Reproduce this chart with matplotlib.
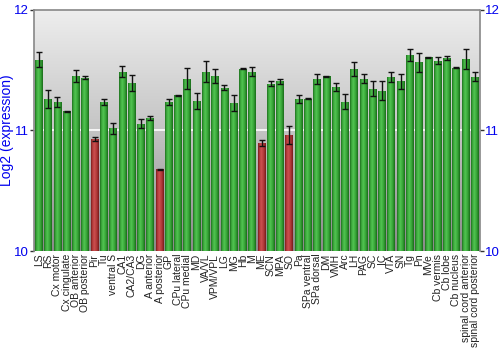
import numpy as np
import matplotlib
matplotlib.use("Agg")
import matplotlib.pyplot as plt
from matplotlib.colors import LinearSegmentedColormap

regions = ["LS", "RS", "Cx motor", "Cx cingulate", "OB anterior", "OB posterior",
           "Pir", "Tu", "ventral S", "CA1", "CA2/CA3", "DG", "A anterior",
           "A posterior", "GP", "CPu lateral", "CPu medial", "MD", "VA/VL",
           "VPM/VPL", "LG", "MG", "Hb", "M", "ME", "SCN", "MPA", "SO", "Pa",
           "SPa ventral", "SPa dorsal", "DM", "VMH", "Arc", "LH", "PAG", "SC",
           "IC", "VTA", "SN", "Tg", "Pn", "MVe", "Cb vermis", "Cb lobe",
           "Cb nucleus", "spinal cord anterior", "spinal cord posterior"]
expression = [11.585, 11.259, 11.234, 11.156, 11.447, 11.436, 10.927, 11.237,
              11.018, 11.485, 11.389, 11.054, 11.100, 10.675, 11.231, 11.289,
              11.427, 11.242, 11.485, 11.452, 11.353, 11.225, 11.510, 11.485,
              10.894, 11.386, 11.405, 10.960, 11.259, 11.261, 11.425, 11.447,
              11.358, 11.237, 11.508, 11.427, 11.344, 11.328, 11.441, 11.405,
              11.621, 11.563, 11.604, 11.577, 11.599, 11.519, 11.593, 11.444]
error = [0.065, 0.073, 0.040, 0.005, 0.050, 0.010, 0.020, 0.025, 0.045, 0.045,
         0.065, 0.036, 0.018, 0.003, 0.024, 0.005, 0.088, 0.064, 0.086, 0.058,
         0.020, 0.066, 0.005, 0.035, 0.028, 0.020, 0.020, 0.075, 0.033, 0.004,
         0.040, 0.004, 0.030, 0.065, 0.055, 0.039, 0.060, 0.077, 0.044, 0.060,
         0.048, 0.079, 0.005, 0.030, 0.014, 0.004, 0.082, 0.039]
low_threshold = 11.0
y_ticks = [10, 11, 12]

fig = plt.figure(figsize=(5, 3.5), dpi=100)
ax_w = (479.5 - 34.3) / 500
ax = fig.add_axes([34.3 / 500, 1 - 251 / 350, ax_w, (251 - 9.5) / 350])

n = len(regions)
x = np.arange(n)
ax.set_xlim(-0.5, n - 0.5)
ax.set_ylim(10, 12)

# vertical grey gradient background
bg = LinearSegmentedColormap.from_list("bg", ["#8a8a8a", "#c4c4c4", "#eeeeee"])
ax.imshow(np.linspace(0, 1, 256).reshape(-1, 1), cmap=bg, aspect="auto",
          extent=(-0.5, n - 0.5, 10, 12), origin="lower", zorder=0)
ax.axhline(11, color="white", lw=1.2, zorder=1)

green = LinearSegmentedColormap.from_list(
    "g", [(0, "#1f6e1f"), (0.18, "#3aa63a"), (0.42, "#52c452"), (0.75, "#34a034"), (1, "#1a6a1a")])
red = LinearSegmentedColormap.from_list(
    "r", [(0, "#7a1c1c"), (0.18, "#b23a3a"), (0.42, "#cc5050"), (0.75, "#ad3636"), (1, "#761a1a")])
shade = np.linspace(0, 1, 64).reshape(1, -1)

width = 0.84
bars = ax.bar(x, [v - 10 for v in expression], bottom=10, width=width,
              color="none", edgecolor="none", zorder=2)
for xi, val, bar in zip(x, expression, bars):
    cmap = red if val < low_threshold else green
    im = ax.imshow(shade, cmap=cmap, aspect="auto",
                   extent=(xi - width / 2, xi + width / 2, 10, val), zorder=2)
    im.set_clip_path(bar)

ax.errorbar(x, expression, yerr=error, fmt="none", ecolor="#111111",
            elinewidth=1.0, capsize=2, capthick=1.0, zorder=3)

ax.set_xlim(-0.5, n - 0.5)
ax.set_ylim(10, 12)

ax.set_xticks(x)
ax.set_xticklabels(regions, rotation=90, fontsize=7.5, family="Liberation Sans",
                   color="#222222")
ax.tick_params(axis="x", length=0, pad=2)
ax.set_yticks(y_ticks)
ax.set_yticklabels([str(t) for t in y_ticks])
ax.tick_params(axis="y", which="both", left=True, right=True, labelleft=True,
               labelright=True, length=3, width=1, color="#333333",
               labelcolor="#0000ee", labelsize=9.5, pad=1)
for lab in ax.get_yticklabels():
    lab.set_family("Liberation Sans")

ax.set_ylabel("Log2 (expression)", color="#0000ee", fontsize=10,
              family="Liberation Sans")
# label's right edge sits just left of the tick numbers
ax.yaxis.set_label_coords((14.5 - 34.3) / (ax_w * 500), 0.5)

for side in ["left", "right", "top"]:
    ax.spines[side].set_color("#888888")
    ax.spines[side].set_linewidth(1.2)
ax.spines["bottom"].set_visible(False)

fig.savefig("out.png", dpi=100)
